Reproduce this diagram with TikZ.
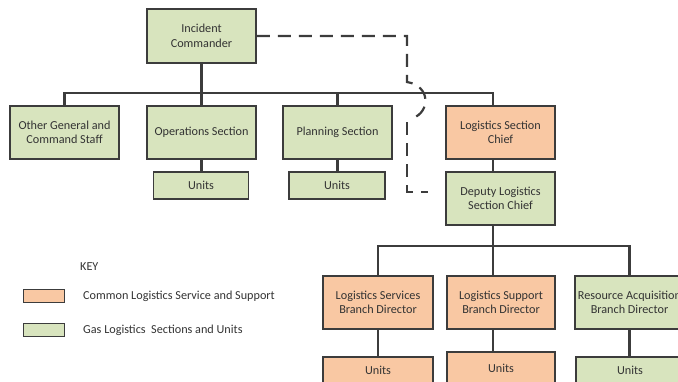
\documentclass[tikz,border=0pt]{standalone}
\usepackage{fontspec}
\setmainfont{Carlito}
\usetikzlibrary{calc}
\definecolor{grn}{HTML}{D8E4BE}
\definecolor{org}{HTML}{F9C8A3}
\definecolor{edgec}{HTML}{3C3C3C}
\definecolor{txt}{HTML}{333333}
\begin{document}
\begin{tikzpicture}[x=1pt,y=-1pt,
  box/.style={draw=edgec, line width=1.5pt, align=center, inner sep=0pt, text=txt, font=\fontsize{12.2}{14.5}\selectfont},
  gbox/.style={box, fill=grn},
  obox/.style={box, fill=org},
  sz/.style n args={2}{minimum width=#1pt, minimum height=#2pt},
  link/.style={draw=edgec, line width=2.2pt},
  dline/.style={draw=edgec, line width=2.2pt, dash pattern=on 13pt off 8pt},
  keytext/.style={anchor=west, inner sep=0pt, text=txt, font=\fontsize{12.2}{14.5}\selectfont}]
\path[use as bounding box] (0,0) rectangle (678,381);
\begin{scope}
\clip (0,0) rectangle (678,381);
% nodes
\node[gbox, sz={109}{54}] (ic) at (201.5,36) {Incident\\Commander};
\node[gbox, sz={109}{53}] (other) at (64.5,132.5) {Other General and\\Command Staff};
\node[gbox, sz={109}{53}] (ops) at (201.5,132.5) {Operations Section};
\node[gbox, sz={95}{27}] (opsu) at (201,185.5) {Units};
\node[gbox, sz={109}{53}] (plan) at (337.5,132.5) {Planning Section};
\node[gbox, sz={96}{27}] (planu) at (337,185.5) {Units};
\node[obox, sz={109}{53}] (lsc) at (500.5,132.5) {Logistics Section\\Chief};
\node[gbox, sz={109}{53}] (dep) at (500.5,198.5) {Deputy Logistics\\Section Chief};
\node[obox, sz={110}{53}] (lsbd) at (378,302.5) {Logistics Services\\Branch Director};
\node[obox, sz={108}{53}] (lspbd) at (501,302.5) {Logistics Support\\Branch Director};
\node[gbox, sz={109}{53}] (rabd) at (629.5,302.5) {Resource Acquisition\\Branch Director};
\node[obox, sz={110}{27}] (lsu) at (378,370.5) {Units};
\node[obox, sz={108}{32}] (lspu) at (501,368) {Units};
\node[gbox, sz={108}{27}] (rau) at (630,370.5) {Units};
% key
\node[keytext] (key) at (80,267) {KEY};
\node[obox, sz={41}{13}, line width=1pt] (ks1) at (43.5,295.5) {};
\node[gbox, sz={41}{13}, line width=1pt] (ks2) at (43.5,330) {};
\node[keytext] (kt1) at (83,296) {Common Logistics Service and Support};
\node[keytext] (kt2) at (83,330) {Gas Logistics\ \ Sections and Units};
% solid connectors
\draw[link] (ic.south) -- ++(0,29) coordinate (b0);
\draw[link] (other.north) -- (other.north |- b0) -- ([xshift=-7.5pt]lsc.north |- b0) -- ([xshift=-7.5pt]lsc.north);
\draw[link] (ops.north) -- (ops.north |- b0);
\draw[link] (plan.north) -- (plan.north |- b0);
\draw[link] (ops.south) -- (ops.south |- opsu.north);
\draw[link] (plan.south) -- (plan.south |- planu.north);
\draw[link] ([xshift=-7.5pt]lsc.south) -- ([xshift=-7.5pt]dep.north);
\draw[link] ([xshift=-7.5pt]dep.south) -- ++(0,20) coordinate (b2);
\draw[link] (lsbd.north) -- (lsbd.north |- b2) -- (rabd.north |- b2) -- (rabd.north);
\draw[link] (b2) -- (b2 |- lspbd.north);
\draw[link] (lsbd.south) -- (lsbd.south |- lsu.north);
\draw[link] (b2 |- lspbd.south) -- (b2 |- lspu.north);
\draw[link] (rabd.south) -- (rabd.south |- rau.north);
% dashed link
\coordinate (d1) at (407,36);
\coordinate (d2) at (407,82);
\coordinate (d3) at (413,118);
\coordinate (d4) at (407,122);
\coordinate (d5) at (407,192);
\coordinate (d6) at (428,192);
\draw[dline] (ic.east) -- (d1) -- (d2) .. controls (431,86) and (430,112) .. (d3);
\draw[dline] (d4) -- (d5) -- (d6);
\end{scope}
\end{tikzpicture}
\end{document}
